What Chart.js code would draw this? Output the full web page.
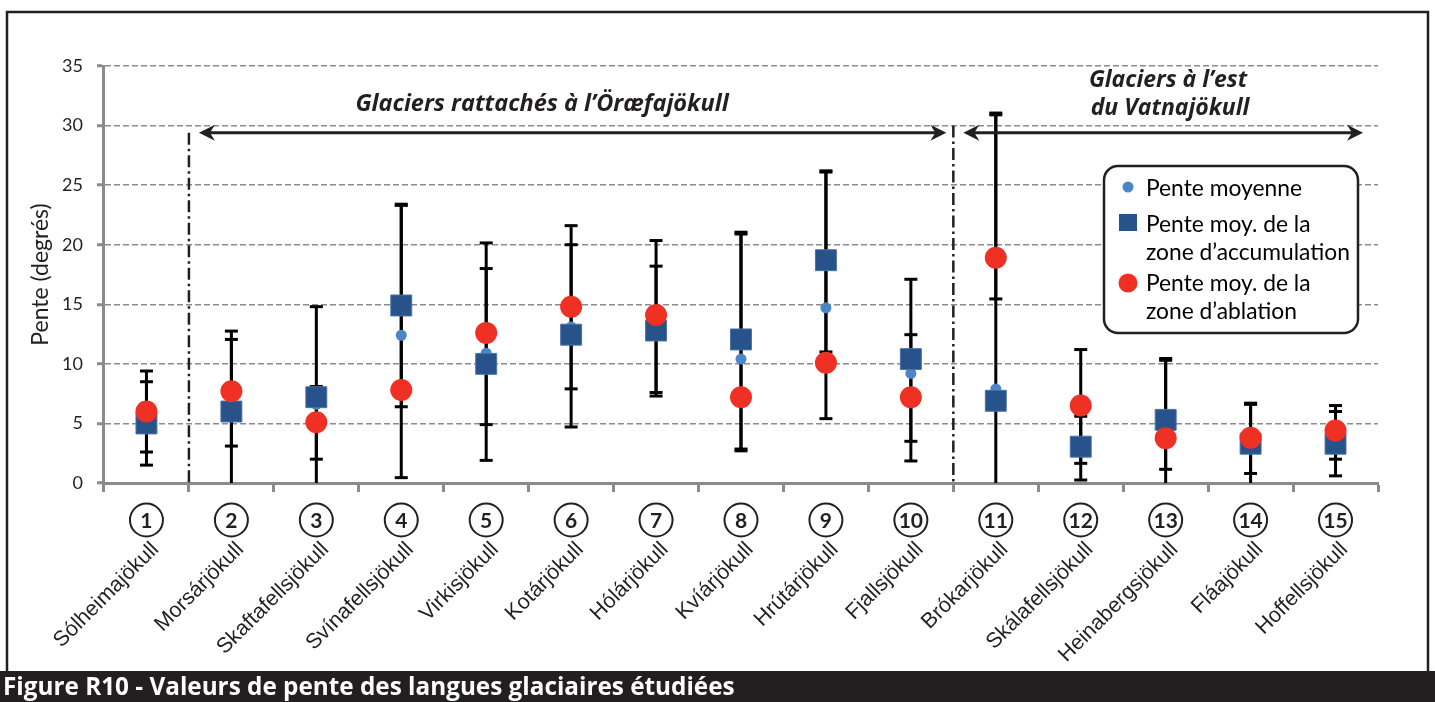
<!DOCTYPE html>
<html lang="fr">
<head>
<meta charset="utf-8">
<title>Figure R10</title>
<script src="https://cdn.jsdelivr.net/npm/chart.js@4.4.1/dist/chart.umd.min.js"></script>
<style>
html, body { margin: 0; padding: 0; background: #fff; }
#cadre { position: relative; width: 1435px; height: 702px; }
</style>
</head>
<body>
<div id="cadre"><canvas id="myChart" width="1435" height="702"></canvas></div>
<script>
// Glaciers (axe x)
const glaciers = ['Sólheimajökull', 'Morsárjökull', 'Skaftafellsjökull', 'Svínafellsjökull', 'Virkisjökull',
    'Kotárjökull', 'Hólárjökull', 'Kvíárjökull', 'Hrútárjökull', 'Fjallsjökull',
    'Brókarjökull', 'Skálafellsjökull', 'Heinabergsjökull', 'Fláajökull', 'Hoffellsjökull'];
const numeros = ['1', '2', '3', '4', '5', '6', '7', '8', '9', '10', '11', '12', '13', '14', '15'];

// Pentes en degrés
const penteMoyenne = [5.4, 6.8, 6.6, 12.4, 10.9, 13.1, 13.3, 10.4, 14.7, 9.2, 7.9, 3.4, 4.5, 3.5, 3.8];
const penteAccumulation = [5.0, 6.0, 7.2, 14.9, 10.0, 12.45, 12.8, 12.05, 18.7, 10.4, 6.9, 3.05, 5.3, 3.3, 3.3];
const penteAblation = [6.0, 7.7, 5.1, 7.8, 12.6, 14.8, 14.1, 7.2, 10.1, 7.2, 18.9, 6.5, 3.75, 3.8, 4.4];

// Barres min / max (deux séries de barres)
const minA = [1.5, 0, 0, 0.45, 1.9, 4.7, 7.3, 2.85, 5.4, 1.85, 0, 0.25, 0, 0, 0.6];
const maxA = [9.4, 12.75, 14.8, 23.4, 20.15, 21.6, 20.35, 21.05, 26.2, 17.1, 31.05, 11.2, 10.45, 6.7, 6.5];
const minB = [2.6, 3.1, 2.0, 6.4, 4.9, 7.9, 7.6, 2.7, 11.0, 3.5, 15.45, 1.65, 1.15, 0.8, 2.0];
const maxB = [8.5, 12.05, 8.1, 23.3, 18.0, 20.0, 18.2, 20.9, 26.1, 12.45, 30.9, 5.6, 10.3, 6.6, 6.0];

const noir = '#231f20';
const gris = '#8b8b8d';

//Barres d'erreur sous les points
const barresErreur = {
    id: 'barresErreur',
    beforeDatasetsDraw(chart) {
        const ctx = chart.ctx;
        const x = chart.scales.x;
        const y = chart.scales.y;
        ctx.save();
        ctx.strokeStyle = '#000';
        ctx.lineWidth = 3;
        for (let i = 0; i < glaciers.length; i++) {
            const px = x.getPixelForValue(i);
            const paires = [[minA[i], maxA[i]], [minB[i], maxB[i]]];
            paires.forEach(p => {
                ctx.beginPath();
                ctx.moveTo(px, y.getPixelForValue(p[0]));
                ctx.lineTo(px, y.getPixelForValue(p[1]));
                ctx.stroke();
                p.forEach(v => {
                    if (v > 0) {
                        const py = y.getPixelForValue(v);
                        ctx.beginPath();
                        ctx.moveTo(px - 6.5, py);
                        ctx.lineTo(px + 6.5, py);
                        ctx.stroke();
                    }
                });
            });
        }
        ctx.restore();
    }
};

function fleche(ctx, x1, x2, y) {
    ctx.beginPath();
    ctx.moveTo(x1 + 6, y);
    ctx.lineTo(x2 - 6, y);
    ctx.stroke();
    [[x1, 1], [x2, -1]].forEach(a => {
        const bx = a[0], d = a[1];
        ctx.beginPath();
        ctx.moveTo(bx, y);
        ctx.lineTo(bx + d * 16, y - 8);
        ctx.lineTo(bx + d * 11, y);
        ctx.lineTo(bx + d * 16, y + 8);
        ctx.closePath();
        ctx.fill();
    });
}

//Cadre, flèches, numéros, légende, titre
const habillage = {
    id: 'habillage',
    beforeDraw(chart) {
        const ctx = chart.ctx;
        ctx.save();
        ctx.fillStyle = '#fff';
        ctx.fillRect(0, 0, chart.width, chart.height);
        ctx.restore();
    },
    afterDraw(chart) {
        const ctx = chart.ctx;
        const x = chart.scales.x;
        const y = chart.scales.y;
        const bas = chart.chartArea.bottom;
        ctx.save();

        // cadre
        ctx.strokeStyle = noir;
        ctx.lineWidth = 2.5;
        ctx.strokeRect(7, 12, 1421, 662);

        // séparations
        const sep1 = (x.getPixelForValue(0) + x.getPixelForValue(1)) / 2;
        const sep2 = (x.getPixelForValue(9) + x.getPixelForValue(10)) / 2;
        ctx.setLineDash([12, 4, 2.5, 4]);
        ctx.lineWidth = 2.5;
        ctx.beginPath();
        ctx.moveTo(sep1, y.getPixelForValue(29.4));
        ctx.lineTo(sep1, bas);
        ctx.moveTo(sep2, y.getPixelForValue(30));
        ctx.lineTo(sep2, bas);
        ctx.stroke();
        ctx.setLineDash([]);

        // flèches
        const yf = y.getPixelForValue(29.4);
        ctx.lineWidth = 3;
        ctx.fillStyle = noir;
        fleche(ctx, sep1 + 10, sep2 - 7, yf);
        fleche(ctx, sep2 + 10, chart.chartArea.right - 15, yf);

        // textes des groupes
        ctx.font = 'italic bold 23.5px "Open Sans"';
        ctx.textAlign = 'center';
        ctx.textBaseline = 'middle';
        ctx.fillText('Glaciers rattachés à l’Öræfajökull', 542, 104);
        ctx.font = 'italic bold 23px "Open Sans"';
        ctx.fillText('Glaciers à l’est', 1168, 80);
        ctx.fillText('du Vatnajökull', 1170, 108);

        // numéros cerclés
        ctx.lineWidth = 2;
        ctx.font = 'bold 21px Lato';
        for (let i = 0; i < numeros.length; i++) {
            const px = x.getPixelForValue(i);
            ctx.beginPath();
            ctx.arc(px, 520, 16.5, 0, Math.PI * 2);
            ctx.stroke();
            ctx.fillText(numeros[i], px, 521);
        }

        // légende
        ctx.beginPath();
        ctx.roundRect(1104, 166, 254, 167, 14);
        ctx.fillStyle = '#fff';
        ctx.fill();
        ctx.lineWidth = 2.5;
        ctx.stroke();
        ctx.fillStyle = '#4a86c8';
        ctx.beginPath();
        ctx.arc(1128, 187, 5.5, 0, Math.PI * 2);
        ctx.fill();
        ctx.fillStyle = '#27528a';
        ctx.fillRect(1119, 214, 18, 17);
        ctx.fillStyle = '#ee3124';
        ctx.beginPath();
        ctx.arc(1128, 283, 9.5, 0, Math.PI * 2);
        ctx.fill();
        ctx.fillStyle = '#000';
        ctx.font = '22.8px Lato';
        ctx.textAlign = 'left';
        ctx.fillText('Pente moyenne', 1146, 189);
        ctx.fillText('Pente moy. de la', 1146, 225);
        ctx.fillText('zone d’accumulation', 1146, 253);
        ctx.fillText('Pente moy. de la', 1146, 284);
        ctx.fillText('zone d’ablation', 1146, 312);

        // titre de la figure
        ctx.fillStyle = noir;
        ctx.fillRect(0, 671, chart.width, 31);
        ctx.fillStyle = '#fff';
        ctx.font = 'bold 24.3px "Open Sans"';
        ctx.fillText('Figure R10 - Valeurs de pente des langues glaciaires étudiées', 3, 688);
        ctx.restore();
    }
};

const ctx = document.getElementById('myChart');

new Chart(ctx, {
    type: 'line',
    data: {
        labels: glaciers,
        datasets: [{
            label: 'Pente moyenne',
            data: penteMoyenne,
            showLine: false,
            pointStyle: 'circle',
            pointRadius: 5.5,
            backgroundColor: '#4a86c8',
            borderColor: '#4a86c8',
            pointBorderWidth: 0,
            order: 3
        }, {
            label: 'Pente moy. de la zone d’accumulation',
            data: penteAccumulation,
            showLine: false,
            pointStyle: 'rect',
            pointRadius: 14.8,
            backgroundColor: '#27528a',
            borderColor: '#4c72a8',
            pointBorderWidth: 1,
            order: 2
        }, {
            label: 'Pente moy. de la zone d’ablation',
            data: penteAblation,
            showLine: false,
            pointStyle: 'circle',
            pointRadius: 11,
            backgroundColor: '#ee3124',
            borderColor: '#ee3124',
            pointBorderWidth: 0,
            order: 1
        }]
    },
    options: {
        responsive: false,
        animation: false,
        layout: { padding: { left: 0, top: 66, right: 57, bottom: 0 } },
        plugins: {
            legend: { display: false },
            tooltip: { enabled: false }
        },
        scales: {
            x: {
                offset: true,
                afterFit(scale) { scale.height = 219; },
                grid: { offset: true, drawOnChartArea: false, tickLength: 9, tickWidth: 3, tickColor: gris },
                border: { display: true, color: gris, width: 3 },
                ticks: {
                    autoSkip: false,
                    minRotation: 45,
                    maxRotation: 45,
                    padding: 45,
                    labelOffset: 9,
                    color: noir,
                    font: { family: '"Liberation Sans", Arial', size: 21.5 }
                }
            },
            y: {
                min: 0,
                max: 35,
                afterFit(scale) { scale.width = 103; },
                grid: { color: gris, lineWidth: 1.5, tickLength: 7, tickWidth: 3, tickColor: gris },
                border: { display: true, color: gris, width: 3, dash: [6, 3] },
                ticks: {
                    stepSize: 5,
                    padding: 14,
                    color: noir,
                    font: { family: 'Lato', size: 18 }
                },
                title: {
                    display: true,
                    text: 'Pente (degrés)',
                    color: noir,
                    font: { family: 'Lato', size: 23 },
                    padding: { top: 26, bottom: 0 }
                }
            }
        }
    },
    plugins: [barresErreur, habillage]
});
</script>
</body>
</html>
